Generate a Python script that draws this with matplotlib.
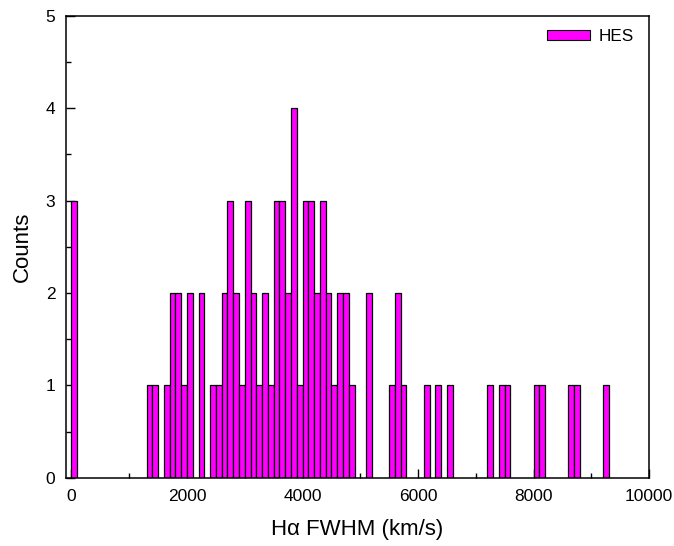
import matplotlib
matplotlib.use("Agg")
import matplotlib.pyplot as plt
from matplotlib.ticker import MultipleLocator

plt.rcParams['font.family'] = ['Liberation Sans', 'DejaVu Sans']

# Histogram bins (left edges, km/s) and counts, bin width 100 km/s
bin_left = [0, 1300, 1400, 1600, 1700, 1800, 1900, 2000, 2200, 2400, 2500,
            2600, 2700, 2800, 2900, 3000, 3100, 3200, 3300, 3400, 3500, 3600,
            3700, 3800, 3900, 4000, 4100, 4200, 4300, 4400, 4500, 4600, 4700,
            4800, 5100, 5500, 5600, 5700, 6100, 6300, 6500, 7200, 7400, 7500,
            8000, 8100, 8600, 8700, 9200]
counts = [3, 1, 1, 1, 2, 2, 1, 2, 2, 1, 1,
          2, 3, 2, 1, 3, 2, 1, 2, 1, 3, 3,
          2, 4, 1, 3, 3, 2, 3, 2, 1, 2, 2,
          1, 2, 1, 2, 1, 1, 1, 1, 1, 1, 1,
          1, 1, 1, 1, 1]
bin_width = 100
series_label = "HES"
x_ticks = [0, 2000, 4000, 6000, 8000, 10000]
y_ticks = [0, 1, 2, 3, 4, 5]

fig = plt.figure(figsize=(6.74, 5.46), dpi=100)
ax = fig.add_axes([0.0975, 0.125, 0.8655, 0.846])

ax.bar(bin_left, counts, width=bin_width, align='edge', color='#FF00FF',
       edgecolor='black', linewidth=0.9, label=series_label, zorder=2)

ax.set_xlim(-100, 10000)
ax.set_ylim(0, 5)
ax.set_xticks(x_ticks)
ax.set_yticks(y_ticks)
ax.xaxis.set_minor_locator(MultipleLocator(1000))
ax.yaxis.set_minor_locator(MultipleLocator(0.5))
ax.tick_params(axis='both', which='major', direction='in', length=6.5,
               width=1.0, labelsize=12.5, top=False, right=False)
ax.tick_params(axis='both', which='minor', direction='in', length=3.8,
               width=1.0, top=False, right=False)
ax.tick_params(axis='x', which='major', pad=8)
ax.tick_params(axis='y', which='major', pad=7.5)
for s in ax.spines.values():
    s.set_linewidth(1.1)
    s.set_zorder(4)

ax.set_xlabel("H\u03b1 FWHM (km/s)", fontsize=16, labelpad=11)
ax.set_ylabel("Counts", fontsize=16, labelpad=9)

leg = ax.legend(loc='upper left', bbox_to_anchor=(0.8255, 0.972), frameon=False,
                fontsize=12.3, handlelength=2.5, handleheight=0.5,
                handletextpad=0.48, borderpad=0.0, borderaxespad=0.0)
for h in leg.legend_handles:
    h.set_linewidth(0.8)

fig.savefig("out.png", dpi=100)
